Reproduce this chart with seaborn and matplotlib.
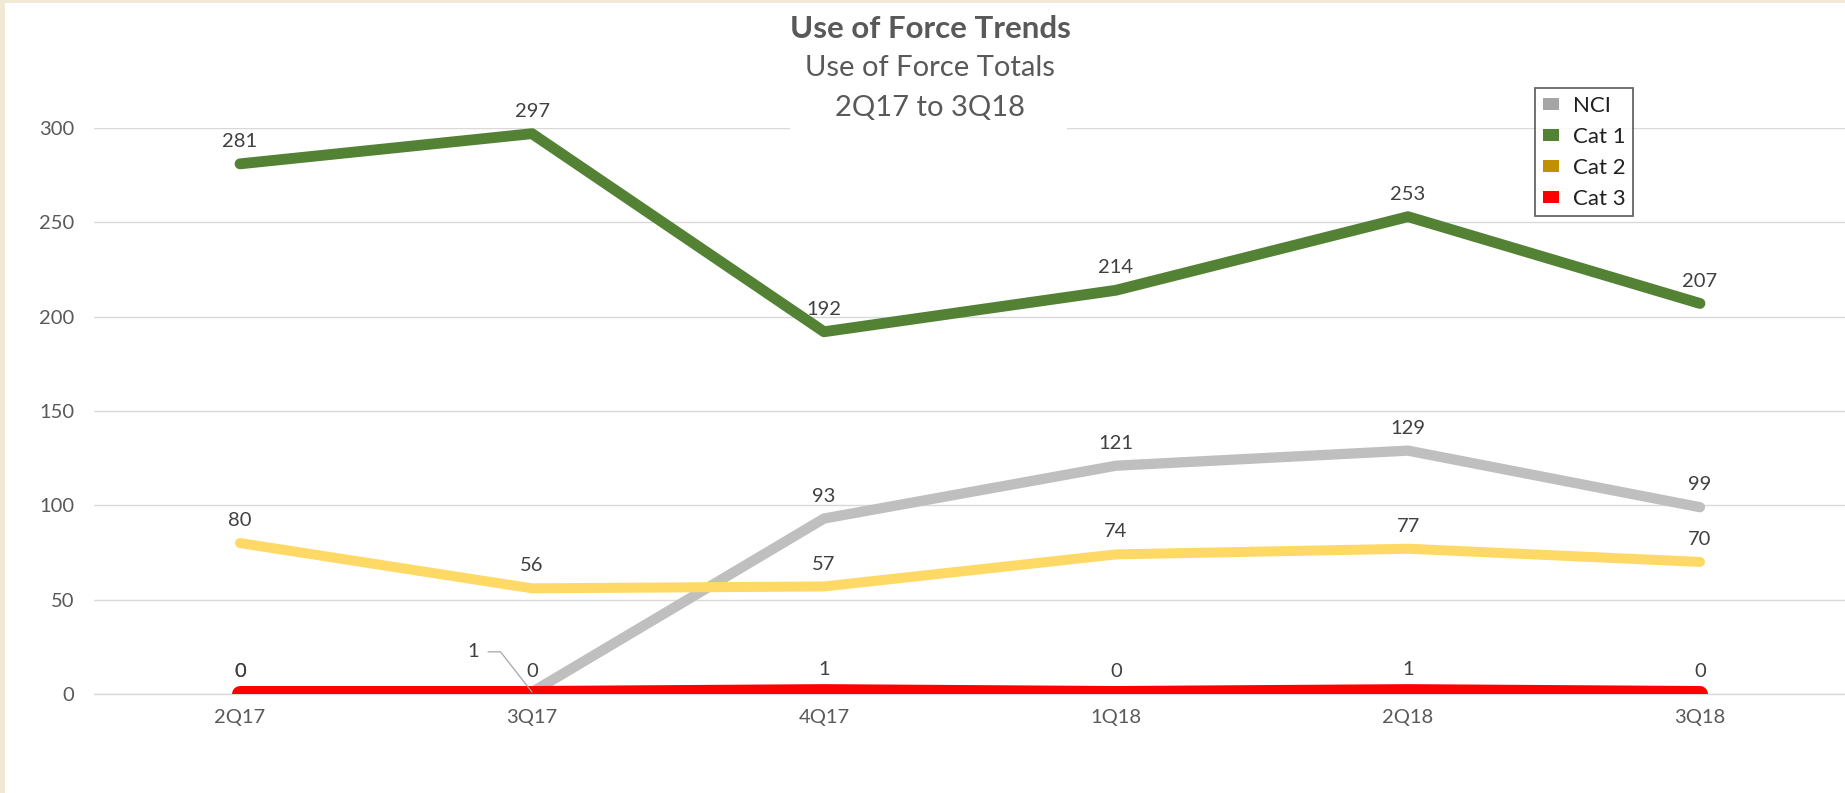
import matplotlib
matplotlib.use("Agg")
import matplotlib.pyplot as plt
from matplotlib.patches import Patch, Rectangle
import pandas as pd
import seaborn as sns

quarters = ["2Q17", "3Q17", "4Q17", "1Q18", "2Q18", "3Q18"]
nci = [0, 1, 93, 121, 129, 99]
cat1 = [281, 297, 192, 214, 253, 207]
cat2 = [80, 56, 57, 74, 77, 70]
cat3 = [0, 0, 1, 0, 1, 0]

series_names = ["NCI", "Cat 1", "Cat 2", "Cat 3"]
line_colors = {"NCI": "#BFBFBF", "Cat 1": "#548235", "Cat 2": "#FFD966", "Cat 3": "#FF0000"}
legend_colors = {"NCI": "#A5A5A5", "Cat 1": "#548235", "Cat 2": "#BF9000", "Cat 3": "#FF0000"}
line_widths = {"NCI": 7.4, "Cat 1": 7.8, "Cat 2": 7.2, "Cat 3": 11.5}
# series sitting on the zero line get cut at the plot edge, like the original
clipped = {"NCI": True, "Cat 1": False, "Cat 2": False, "Cat 3": True}

df = pd.DataFrame({
    "quarter": quarters * 4,
    "series": [s for s in series_names for _ in quarters],
    "value": nci + cat1 + cat2 + cat3,
})

sns.set_theme(style="white")
plt.rcParams["font.family"] = ["Lato", "DejaVu Sans"]

W, H = 1845, 793
fig = plt.figure(figsize=(W / 100, H / 100), dpi=100)
fig.patch.set_facecolor("#EFE9D6")
fig.patches.append(Rectangle((5 / W, 0), 1 - 5 / W, 1 - 3 / H, transform=fig.transFigure,
                             facecolor="white", edgecolor="none", zorder=-10))

ax = fig.add_axes([94 / W, 1 - 694 / H, (1846 - 94) / W, (694 - 128) / H])
ax.set_facecolor("none")

for name in series_names:
    sns.lineplot(data=df[df["series"] == name], x="quarter", y="value",
                 color=line_colors[name], lw=line_widths[name], sort=False, legend=False,
                 ax=ax, solid_capstyle="round", solid_joinstyle="round",
                 clip_on=clipped[name], zorder=3)

ax.set_xlim(-0.5, 5.5)
ax.set_ylim(0, 300)
ax.set_yticks([0, 50, 100, 150, 200, 250, 300])
ax.grid(axis="y", color="#D9D9D9", lw=1.0)
ax.set_axisbelow(True)
for side in ["top", "right", "left"]:
    ax.spines[side].set_visible(False)
ax.spines["bottom"].set_color("#D9D9D9")
ax.spines["bottom"].set_linewidth(1.0)
ax.spines["bottom"].set_zorder(1)
ax.tick_params(axis="both", length=0, labelsize=14.5, labelcolor="#595959")
ax.tick_params(axis="x", pad=11)
ax.tick_params(axis="y", pad=14)
ax.set_xlabel("")
ax.set_ylabel("")

# data labels
for name, vals in zip(series_names, [nci, cat1, cat2, cat3]):
    for i, v in enumerate(vals):
        if name == "NCI" and i == 1:
            continue
        ax.annotate(str(v), (i, v), xytext=(0, 10), textcoords="offset points",
                    ha="center", va="bottom", fontsize=14.5, color="#404040", zorder=5)

# NCI 3Q17 label moved aside with a leader line
ax.annotate(str(nci[1]), (1, nci[1]), xytext=(-38, 29), textcoords="offset points",
            ha="right", va="center", fontsize=14.5, color="#404040",
            arrowprops=dict(arrowstyle="-", color="#A6A6A6", lw=0.9,
                            connectionstyle="angle,angleA=0,angleB=128,rad=0",
                            shrinkA=4, shrinkB=0))

# title block (white box hides the 300 gridline behind it)
fig.patches.append(Rectangle((790 / W, 1 - 131 / H), (1067 - 790) / W, 126 / H,
                             transform=fig.transFigure, facecolor="white",
                             edgecolor="none", zorder=1))
fig.text(930 / W, 1 - 29 / H, "Use of Force Trends", ha="center", va="center",
         fontsize=22.5, fontweight="bold", color="#595959", zorder=2)
fig.text(930 / W, 1 - 68 / H, "Use of Force Totals", ha="center", va="center",
         fontsize=21, color="#595959", zorder=2)
fig.text(930 / W, 1 - 108 / H, "2Q17 to 3Q18", ha="center", va="center",
         fontsize=21, color="#595959", zorder=2)

handles = [Patch(facecolor=legend_colors[s], edgecolor="none") for s in series_names]
leg = fig.legend(handles, series_names, loc="upper left",
                 bbox_to_anchor=(1535 / W, 1 - 88 / H), bbox_transform=fig.transFigure,
                 borderaxespad=0, frameon=True, fancybox=False, fontsize=16,
                 handlelength=0.75, handleheight=0.45, labelspacing=0.5,
                 borderpad=0.34, handletextpad=0.6)
leg.get_frame().set_edgecolor("#404040")
leg.get_frame().set_linewidth(1.3)
leg.set_zorder(3)
for t in leg.get_texts():
    t.set_color("#202020")

fig.savefig("out.png", dpi=100, facecolor=fig.get_facecolor())
